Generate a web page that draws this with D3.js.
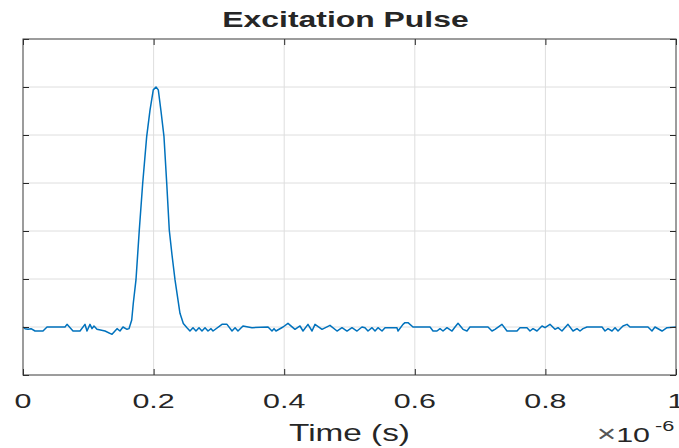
<!DOCTYPE html>
<html lang="en">
<head>
<meta charset="utf-8">
<title>Excitation Pulse</title>
<style>
  body { margin: 0; background: #fff; }
  text { font-family: "Liberation Sans", Arial, sans-serif; fill: #262626; }
  .grid line { stroke: #dedede; stroke-width: 1px; }
  .tick line { stroke: #262626; }
</style>
</head>
<body>
<div id="chart"></div>
<script src="https://d3js.org/d3.v7.min.js"></script>
<script>
// time in microseconds (axis shows x10^-6 s), amplitude
var timeUs = [
  0, 0.0031, 0.0077, 0.0123, 0.0184, 0.0306, 0.0368, 0.0643, 0.0674, 0.0766,
  0.0873, 0.0949, 0.0980, 0.1026, 0.1057, 0.1087, 0.1133, 0.1256, 0.1363, 0.1440,
  0.1485, 0.1531, 0.1593, 0.1623,
  0.1665, 0.1689, 0.1730, 0.1781, 0.1833, 0.1894, 0.1945, 0.1995, 0.2037, 0.2072,
  0.2113, 0.2159, 0.2201, 0.2240, 0.2282, 0.2328, 0.2404, 0.2455,
  0.2511, 0.2557, 0.2603, 0.2649, 0.2695, 0.2741, 0.2787, 0.2833, 0.2879, 0.2910,
  0.3047, 0.3124, 0.3201, 0.3247, 0.3292, 0.3369, 0.3507, 0.3752, 0.3813, 0.3844,
  0.3874, 0.3982, 0.4058, 0.4165, 0.4242, 0.4288, 0.4364, 0.4426, 0.4472, 0.4579,
  0.4701, 0.4809, 0.4885, 0.4962, 0.5038, 0.5115, 0.5191, 0.5237, 0.5283, 0.5345,
  0.5391, 0.5436, 0.5498, 0.5544, 0.5727, 0.5743, 0.5819, 0.5850, 0.5896, 0.5972,
  0.6233, 0.6279, 0.6340, 0.6386, 0.6432, 0.6493, 0.6570, 0.6616, 0.6662, 0.6738,
  0.6799, 0.6845, 0.7121, 0.7182, 0.7228, 0.7335, 0.7412, 0.7565, 0.7611, 0.7718,
  0.7764, 0.7810, 0.7871, 0.7948, 0.7994, 0.8070, 0.8147, 0.8193, 0.8254, 0.8346,
  0.8423, 0.8484, 0.8530, 0.8576, 0.8637, 0.8867, 0.8913, 0.8959, 0.9020, 0.9066,
  0.9112, 0.9188, 0.9250, 0.9296, 0.9571, 0.9632, 0.9678, 0.9786, 0.9862, 1.0
];
var amplitude = [
  0, -0.0069, -0.0097, -0.0069, -0.0167, -0.0167, 0, 0, 0.0111, -0.0167,
  -0.0167, 0.0111, -0.0167, 0.0111, -0.0069, 0.0042, -0.0097, -0.0167, -0.0306, -0.0069,
  -0.0167, 0, -0.0097, -0.0069,
  0.029, 0.099, 0.196, 0.404, 0.599, 0.793, 0.904, 0.988, 1.0, 0.988,
  0.900, 0.793, 0.599, 0.404, 0.300, 0.196, 0.057, 0.015,
  -0.0028, -0.0167, -0.0028, -0.0167, -0.0028, -0.0167, -0.0028, -0.0167, -0.0069, -0.0167,
  0.0111, 0.0111, -0.0167, -0.0028, -0.0167, 0.0042, -0.0028, 0, -0.0167, -0.0069,
  -0.0167, 0, 0.0153, -0.0097, 0.0042, -0.0167, 0.0111, -0.0167, 0.0111, -0.0097,
  0.0069, -0.0167, -0.0028, -0.0167, -0.0028, -0.0167, 0, -0.0028, -0.0167, -0.0028,
  -0.0167, -0.0028, -0.0167, -0.0028, -0.0028, -0.0167, 0.0111, 0.0181, 0.0181, 0,
  0, -0.0167, -0.0167, -0.0069, -0.0167, -0.0028, -0.0167, 0, 0.0153, -0.0097,
  -0.0167, 0, 0, -0.0167, -0.0097, 0.0111, -0.0167, -0.0167, -0.0028, -0.0028,
  -0.0167, -0.0069, -0.0167, 0.0042, -0.0028, 0.0111, -0.0097, -0.0028, -0.0167, 0.0111,
  -0.0167, -0.0069, -0.0167, -0.0069, 0, 0, -0.0167, -0.0069, -0.0167, -0.0028,
  -0.0167, 0.0042, 0.0111, 0, 0, -0.0167, 0, -0.0167, -0.0028, 0
];
var xTicks = [0, 0.2, 0.4, 0.6, 0.8, 1];
var xTickLabels = ["0", "0.2", "0.4", "0.6", "0.8", "1"];
var yTicks = [-0.2, 0, 0.2, 0.4, 0.6, 0.8, 1.0, 1.2];

var width = 679, height = 448;
var margin = {top: 39, right: 3, bottom: 73, left: 23};
var stretch = 1.45; // text in the picture is drawn wide

var svg = d3.select("#chart").append("svg")
    .attr("width", width)
    .attr("height", height);

var x = d3.scaleLinear().domain([0, 1]).range([margin.left, width - margin.right]);
var y = d3.scaleLinear().domain([-0.2, 1.2]).range([height - margin.bottom, margin.top]);

// grid
var grid = svg.append("g").attr("class", "grid");
grid.selectAll(".gx").data(xTicks.slice(1, -1)).enter().append("line")
    .attr("x1", function(d) { return x(d); }).attr("x2", function(d) { return x(d); })
    .attr("y1", y(-0.2)).attr("y2", y(1.2));
grid.selectAll(".gy").data(yTicks.slice(1, -1)).enter().append("line")
    .attr("x1", x(0)).attr("x2", x(1))
    .attr("y1", function(d) { return y(d); }).attr("y2", function(d) { return y(d); });

// signal
var line = d3.line()
    .x(function(d, i) { return x(timeUs[i]); })
    .y(function(d) { return y(d); });

svg.append("path")
    .datum(amplitude)
    .attr("fill", "none")
    .attr("stroke", "#0072BD")
    .attr("stroke-width", 1.5)
    .attr("stroke-linejoin", "round")
    .attr("d", line);

// axes with inward ticks, box on
var tickLen = 6;
svg.append("g").attr("transform", "translate(0," + y(-0.2) + ")")
    .call(d3.axisBottom(x).tickValues(xTicks).tickSize(-tickLen).tickFormat(""))
    .call(function(g) { g.select(".domain").remove(); });
svg.append("g").attr("transform", "translate(0," + y(1.2) + ")")
    .call(d3.axisTop(x).tickValues(xTicks).tickSize(-tickLen).tickFormat(""))
    .call(function(g) { g.select(".domain").remove(); });
svg.append("g").attr("transform", "translate(" + x(0) + ",0)")
    .call(d3.axisLeft(y).tickValues(yTicks).tickSize(-tickLen).tickFormat(""))
    .call(function(g) { g.select(".domain").remove(); });
svg.append("g").attr("transform", "translate(" + x(1) + ",0)")
    .call(d3.axisRight(y).tickValues(yTicks).tickSize(-tickLen).tickFormat(""))
    .call(function(g) { g.select(".domain").remove(); });

svg.append("rect")
    .attr("x", x(0)).attr("y", y(1.2))
    .attr("width", x(1) - x(0)).attr("height", y(-0.2) - y(1.2))
    .attr("fill", "none").attr("stroke", "#3a3a3a").attr("stroke-width", 1);

function wideText(px, py, str, size, anchor, weight) {
  return svg.append("text")
      .attr("transform", "translate(" + px + "," + py + ") scale(" + stretch + ",1)")
      .attr("text-anchor", anchor || "middle")
      .attr("font-size", size)
      .attr("font-weight", weight || "normal")
      .text(str);
}

xTicks.forEach(function(t, i) {
  wideText(x(t), 408, xTickLabels[i], 21);
});

wideText(x(0.5) - 4, 27, "Excitation Pulse", 22, "middle", "bold");
wideText(x(0.5), 441, "Time (s)", 23);

// exponent label: bigger times sign, then 10 and superscript
var mult = wideText(650, 442, "", 21, "end");
mult.append("tspan").attr("font-size", 23).attr("fill", "#555").text("\u00d7");
mult.append("tspan").text("10");
wideText(655, 431, "-6", 15, "start");
</script>
</body>
</html>
